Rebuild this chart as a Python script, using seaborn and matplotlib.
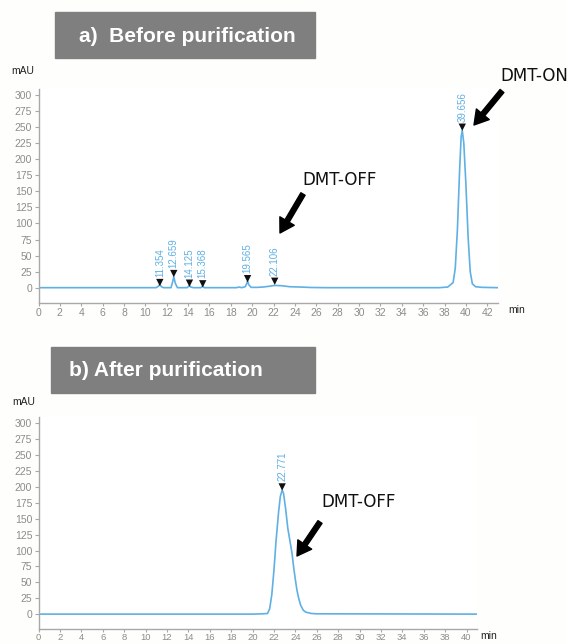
import numpy as np
import pandas as pd
import matplotlib
matplotlib.use("Agg")
import matplotlib.pyplot as plt
import seaborn as sns

# ---- chromatogram a) before purification: trace (min, mAU) ----
before_time = [0.0, 11.0, 11.2, 11.354, 11.5, 11.7, 12.4, 12.55, 12.659, 12.8, 13.0,
               13.9, 14.05, 14.125, 14.25, 14.5, 15.2, 15.368, 15.5, 18.5, 18.8, 19.0,
               19.35, 19.5, 19.565, 19.7, 19.9, 20.5, 21.0, 21.5, 22.106, 22.8, 23.5,
               24.5, 25.5, 27.0, 37.5, 38.3, 38.8, 39.0, 39.2, 39.4, 39.55, 39.656,
               39.8, 40.0, 40.2, 40.4, 40.6, 40.9, 41.5, 43.0]
before_mau = [0.0, 0.0, 2.0, 5.0, 1.5, 0.0, 0.0, 9.0, 17.0, 7.0, 0.0,
              0.0, 2.0, 3.5, 1.0, 0.0, 0.0, 2.5, 0.0, 0.0, 1.0, 0.0,
              1.5, 7.0, 10.0, 4.0, 0.5, 0.5, 1.0, 2.0, 3.5, 3.0, 1.5,
              1.0, 0.3, 0.0, 0.0, 1.0, 8.0, 30.0, 90.0, 180.0, 235.0, 245.0,
              225.0, 160.0, 80.0, 25.0, 6.0, 1.5, 0.5, 0.0]

# peak apexes marked and labelled by retention time
before_rt = [11.354, 12.659, 14.125, 15.368, 19.565, 22.106, 39.656]
before_mark = [8, 22, 7, 6, 14, 10, 250]

# ---- chromatogram b) after purification ----
after_time = [0.0, 20.0, 21.0, 21.4, 21.6, 21.8, 22.0, 22.2, 22.44, 22.6, 22.771,
              22.9, 23.1, 23.3, 23.5, 23.7, 23.85, 24.0, 24.15, 24.3, 24.5, 24.75,
              25.0, 25.5, 26.0, 41.0]
after_mau = [0.0, 0.0, 0.5, 1.0, 8.0, 30.0, 68.0, 115.0, 161.0, 185.0, 195.0,
             190.0, 165.0, 135.0, 115.0, 95.0, 73.0, 55.0, 38.0, 26.0, 14.0, 6.0,
             3.0, 1.0, 0.5, 0.0]
after_rt = [22.771]
after_mark = [200]

y_ticks = [0, 25, 50, 75, 100, 125, 150, 175, 200, 225, 250, 275, 300]

W, H = 567, 644
sns.set_theme(style="white")
plt.rcParams["font.family"] = ["DejaVu Sans"]

TRACE = "#5fb0e4"
GREY_TXT = "#8c8c8c"
NARROW = ["Liberation Sans Narrow", "Liberation Sans", "DejaVu Sans"]

fig = plt.figure(figsize=(W / 100, H / 100), dpi=100, facecolor="#fefefc")


def fx(px):
    return px / W


def fy(py):
    return 1 - py / H


def chromatogram(rect, t, y, rt, mark, xmax, xticks, xpad=1.5, xsize=7.5):
    ax = fig.add_axes(rect)
    ax.set_facecolor("white")
    df = pd.DataFrame({"t": t, "mAU": y})
    sns.lineplot(data=df, x="t", y="mAU", ax=ax, color=TRACE, lw=1.2,
                 estimator=None, sort=False)
    pk = pd.DataFrame({"t": rt, "mAU": mark})
    sns.scatterplot(data=pk, x="t", y="mAU", ax=ax, marker="v", color="#111111",
                    s=28, edgecolor="none", zorder=5)
    for r, m in zip(rt, mark):
        ax.annotate(f"{r:.3f}", (r, m), xytext=(0, 4), textcoords="offset points",
                    rotation=90, ha="center", va="bottom", color=TRACE,
                    fontsize=7, family=NARROW)
    ax.set_xlim(0, xmax)
    ax.set_ylim(-23.4, 310)
    ax.set_xticks(xticks)
    ax.set_yticks(y_ticks)
    ax.set_xlabel("")
    ax.set_ylabel("")
    for s in ["top", "right"]:
        ax.spines[s].set_visible(False)
    for s in ["left", "bottom"]:
        ax.spines[s].set_color("#a8a8a8")
        ax.spines[s].set_linewidth(1.0)
    ax.tick_params(axis="both", length=3, width=0.8, color="#a8a8a8",
                   labelcolor=GREY_TXT, labelsize=7.5, pad=1.5)
    ax.tick_params(axis="x", labelsize=xsize, pad=xpad, length=2.5)
    ax.tick_params(axis="both", which="both", bottom=True, left=True)
    for lab in ax.get_xticklabels() + ax.get_yticklabels():
        lab.set_family(NARROW)
    ax.grid(False)
    return ax


ax_a = chromatogram([fx(38.5), fy(302.7), fx(459.5), (302.7 - 88.7) / H],
                    before_time, before_mau, before_rt, before_mark, 43,
                    list(range(0, 43, 2)))
ax_b = chromatogram([fx(38.5), fy(629.0), fx(438.7), (629.0 - 417.0) / H],
                    after_time, after_mau, after_rt, after_mark, 41,
                    list(range(0, 41, 2)), xpad=0.3, xsize=6.8)

# panel headers
for (x0, y0, x1, y1), txt, tx in [((55, 12, 315, 58), "a)  Before purification", 79),
                                  ((51, 347, 315, 393), "b) After purification", 69)]:
    fig.patches.append(plt.Rectangle((fx(x0), fy(y1)), fx(x1 - x0), (y1 - y0) / H,
                                     transform=fig.transFigure, color="#7f7f7f",
                                     zorder=0))
    fig.text(fx(tx), fy((y0 + y1) / 2 + 1), txt, color="white", fontsize=15,
             fontweight="bold", family=["Liberation Sans", "DejaVu Sans"],
             ha="left", va="center")

# axis unit labels
for x, y, s in [(11, 71, "mAU"), (12, 402, "mAU"), (508, 310, "min"), (480, 636, "min")]:
    fig.text(fx(x), fy(y), s, fontsize=7.5, color="#222222",
             family=["Liberation Sans", "DejaVu Sans"], ha="left", va="center")

# peak callouts
arrow = dict(arrowstyle="simple,head_width=1.2,head_length=1.0,tail_width=0.35",
             mutation_scale=10, color="black", shrinkA=0, shrinkB=0)
for txt, (tx, ty), (x0, y0), (x1, y1) in [
        ("DMT-ON", (534, 76), (502, 91), (474, 125)),
        ("DMT-OFF", (340, 180), (303, 194), (280, 233)),
        ("DMT-OFF", (359, 502), (320, 522), (297, 556))]:
    fig.text(fx(tx), fy(ty), txt, fontsize=12, color="#111111", ha="center",
             va="center")
    fig.add_artist(matplotlib.patches.FancyArrowPatch(
        (fx(x0), fy(y0)), (fx(x1), fy(y1)), transform=fig.transFigure, **arrow))

fig.savefig("out.png", dpi=100, facecolor=fig.get_facecolor())
